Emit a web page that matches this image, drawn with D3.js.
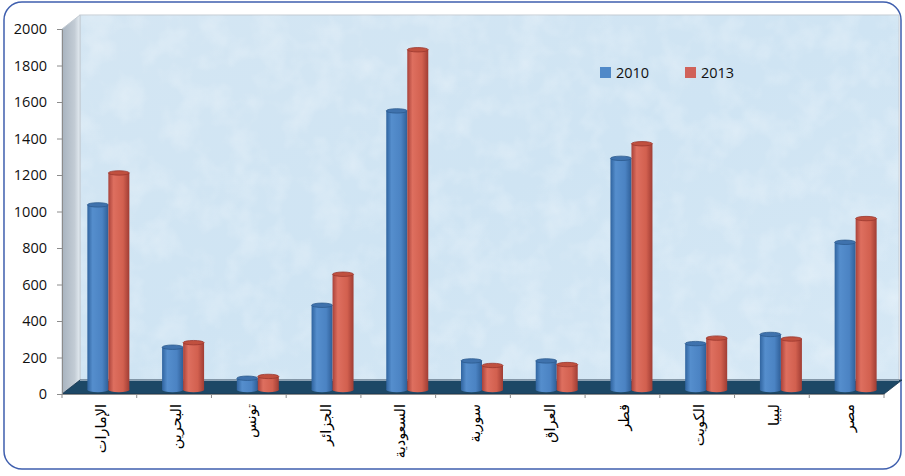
<!DOCTYPE html>
<html>
<head>
<meta charset="utf-8">
<script src="https://cdn.jsdelivr.net/npm/d3@7"></script>
<style>
  html, body { margin: 0; padding: 0; background: #ffffff; }
  svg { display: block; }
</style>
</head>
<body>
<svg id="chart" width="905" height="476"></svg>
<script>
// ---- data ----
const categories = ["الإمارات","البحرين","تونس","الجزائر","السعودية","سورية","العراق","قطر","الكويت","ليبيا","مصر"];
const series = ["2010", "2013"];
const values2010 = [1010, 230, 60, 460, 1525, 155, 155, 1265, 250, 300, 805];
const values2013 = [1185, 255, 70, 630, 1860, 130, 135, 1345, 280, 275, 935];
const yTicks = [0, 200, 400, 600, 800, 1000, 1200, 1400, 1600, 1800, 2000];
const seriesColors = ["#5089c8", "#d0625a"];

(function () {
// ---- layout ----
const svg = d3.select("#chart");
const pLeft = 62, pRight = 884, pTop = 29, pBottom = 394;
const DX = 18, DY = -14;           // 3D depth offset
const barOffX = DX / 2, barOffY = DY / 2;

const x = d3.scaleBand().domain(categories).range([pLeft, pRight]).paddingInner(0).paddingOuter(0);
const xs = d3.scaleBand().domain(series).range([-21, 21]);
const y = d3.scaleLinear().domain([0, 2000]).range([pBottom, pTop]);

const defs = svg.append("defs");

// outer frame
svg.append("rect").attr("x", 4).attr("y", 2).attr("width", 897).attr("height", 467)
  .attr("rx", 18).attr("ry", 18).attr("fill", "#ffffff")
  .attr("stroke", "#3f5fae").attr("stroke-width", 1.5);

// ---- gradients ----
const wallGrad = defs.append("linearGradient").attr("id", "wallGrad")
  .attr("x1", 0).attr("y1", 0).attr("x2", 1).attr("y2", 1);
wallGrad.append("stop").attr("offset", "0%").attr("stop-color", "#d4e6f3");
wallGrad.append("stop").attr("offset", "50%").attr("stop-color", "#cfe4f3");
wallGrad.append("stop").attr("offset", "100%").attr("stop-color", "#d6e8f5");

const sideGrad = defs.append("linearGradient").attr("id", "sideGrad")
  .attr("x1", 0).attr("y1", 0).attr("x2", 1).attr("y2", 0);
sideGrad.append("stop").attr("offset", "0%").attr("stop-color", "#a7b3bf");
sideGrad.append("stop").attr("offset", "70%").attr("stop-color", "#c3ccd5");
sideGrad.append("stop").attr("offset", "100%").attr("stop-color", "#e4ecf2");

const barGrads = [
  ["#30649f", "#558ecd", "#4b83c3", "#2f5f98"],
  ["#a9423a", "#de6f5f", "#d2604f", "#a03d34"]
];
barGrads.forEach((c, i) => {
  const g = defs.append("linearGradient").attr("id", "barGrad" + i)
    .attr("x1", 0).attr("y1", 0).attr("x2", 1).attr("y2", 0);
  g.append("stop").attr("offset", "0%").attr("stop-color", c[0]);
  g.append("stop").attr("offset", "25%").attr("stop-color", c[1]);
  g.append("stop").attr("offset", "70%").attr("stop-color", c[2]);
  g.append("stop").attr("offset", "100%").attr("stop-color", c[3]);
});

// texture filter
const flt = defs.append("filter").attr("id", "mottle").attr("x", 0).attr("y", 0).attr("width", 1).attr("height", 1);
flt.append("feTurbulence").attr("type", "fractalNoise").attr("baseFrequency", "0.035").attr("numOctaves", 3).attr("seed", 4).attr("result", "n");
flt.append("feColorMatrix").attr("in", "n").attr("type", "matrix")
  .attr("values", "0 0 0 0 1  0 0 0 0 1  0 0 0 0 1  1.1 0 0 0 -0.45");

// ---- walls ----
const backX0 = pLeft + DX, backX1 = pRight + DX - 3, backY0 = pTop + DY, backY1 = pBottom + DY;
svg.append("rect").attr("x", backX0).attr("y", backY0).attr("width", backX1 - backX0).attr("height", backY1 - backY0)
  .attr("fill", "url(#wallGrad)").attr("stroke", "#c3cbd3").attr("stroke-width", 1);
svg.append("rect").attr("x", backX0).attr("y", backY0).attr("width", backX1 - backX0).attr("height", backY1 - backY0)
  .attr("filter", "url(#mottle)").attr("opacity", 0.5);

svg.append("polygon")
  .attr("points", [[pLeft, pTop], [backX0, backY0], [backX0, backY1], [pLeft, pBottom]].map(p => p.join(",")).join(" "))
  .attr("fill", "url(#sideGrad)").attr("stroke", "#c3cbd3").attr("stroke-width", 1);

// floor
svg.append("polygon")
  .attr("points", [[pLeft, pBottom], [pRight, pBottom], [pRight + DX, pBottom + DY], [backX0, pBottom + DY]].map(p => p.join(",")).join(" "))
  .attr("fill", "#1d4866").attr("stroke", "#16344c").attr("stroke-width", 0.8);
svg.append("line").attr("x1", backX0).attr("x2", backX1).attr("y1", pBottom + DY + 0.5).attr("y2", pBottom + DY + 0.5)
  .attr("stroke", "#8aa0b2").attr("stroke-width", 1);

// ---- bars ----
const data = categories.map((c, i) => ({ cat: c, vals: [values2010[i], values2013[i]] }));
const barW = xs.bandwidth();
const ry = 2.2;
const groups = svg.append("g").selectAll("g").data(data).join("g");
groups.each(function (d) {
  const g = d3.select(this);
  const cx = x(d.cat) + x.bandwidth() / 2 + barOffX;
  d.vals.forEach((v, si) => {
    const x0 = cx + xs(series[si]);
    const yTop = y(v) + barOffY;
    const yBot = y(0) + barOffY + 3;
    g.append("rect").attr("x", x0).attr("y", yTop + ry).attr("width", barW).attr("height", yBot - yTop - ry)
      .attr("fill", "url(#barGrad" + si + ")");
    g.append("ellipse").attr("cx", x0 + barW / 2).attr("cy", yBot).attr("rx", barW / 2).attr("ry", ry)
      .attr("fill", "url(#barGrad" + si + ")");
    g.append("ellipse").attr("cx", x0 + barW / 2).attr("cy", yTop + ry).attr("rx", barW / 2).attr("ry", ry)
      .attr("fill", si === 0 ? "#3f72ad" : "#c0503f")
      .attr("stroke", si === 0 ? "#2c5a8e" : "#9b372e").attr("stroke-width", 0.8);
  });
});

// ---- axes ----
const yAxis = d3.axisLeft(y).tickValues(yTicks).tickSize(5).tickPadding(10).tickFormat(d3.format("d"));
const gy = svg.append("g").attr("transform", `translate(${pLeft},0)`).call(yAxis);
gy.select(".domain").attr("stroke", "#8c8c8c");
gy.selectAll(".tick line").attr("stroke", "#8c8c8c");
gy.selectAll(".tick text").attr("fill", "#111")
  .style("font-family", "'Open Sans', 'Liberation Sans', sans-serif").style("font-size", "14.5px");

const xAxis = d3.axisBottom(x).tickSize(0).tickFormat("");
const gx = svg.append("g").attr("transform", `translate(0,${pBottom})`).call(xAxis);
gx.select(".domain").attr("stroke", "#8c8c8c");
const bounds = categories.map(c => x(c)).concat([pRight]);
svg.append("g").selectAll("line").data(bounds).join("line")
  .attr("x1", d => d).attr("x2", d => d).attr("y1", pBottom).attr("y2", pBottom + 4)
  .attr("stroke", "#8c8c8c");

// category labels (rotated)
svg.append("g").selectAll("text").data(categories).join("text")
  .attr("transform", d => `translate(${x(d) + x.bandwidth() / 2 + 2},${pBottom + 10}) rotate(-90)`)
  .attr("text-anchor", "end")
  .attr("dominant-baseline", "central")
  .style("font-family", "'DejaVu Sans', sans-serif")
  .style("font-size", "14.5px")
  .attr("fill", "#000")
  .text(d => d);

// ---- legend ----
const legend = svg.append("g").attr("transform", "translate(600,67)");
const legendX = d3.scaleOrdinal().domain(series).range([0, 85]);
series.forEach((s, i) => {
  const lg = legend.append("g").attr("transform", `translate(${legendX(s)},0)`);
  lg.append("rect").attr("width", 11).attr("height", 11).attr("fill", seriesColors[i]);
  lg.append("text").attr("x", 16).attr("y", 11)
    .style("font-family", "'Open Sans', 'Liberation Sans', sans-serif").style("font-size", "14.5px")
    .attr("fill", "#111").text(s);
});
})();
</script>
</body>
</html>
